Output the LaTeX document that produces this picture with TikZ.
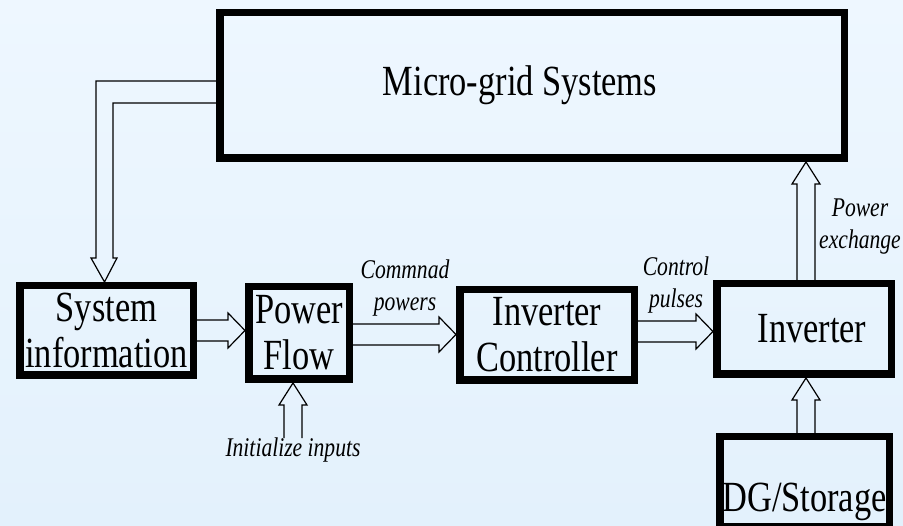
\documentclass[tikz,border=0pt]{standalone}
\usepackage{fontspec}
\setmainfont{Liberation Serif}[FakeStretch=0.8]
\usetikzlibrary{calc}
\definecolor{bgtop}{HTML}{EEF7FF}
\definecolor{bgbot}{HTML}{E3F1FC}
\tikzset{
  blk/.style={draw=black, line width=7.5pt, outer sep=3.75pt, inner sep=0pt,
              font=\fontsize{43}{46}\selectfont, align=center},
  lbl/.style={font=\itshape\fontsize{27}{32}\selectfont, align=center, inner sep=0pt},
  arr/.style={draw=black, line width=1.2pt, line join=miter},
}
\newcommand\harr[3]{\draw[arr] let \p1=(#1.east), \p2=(#2.west) in
  (\x1,#3pt+10.5pt) -- (\x2-17pt,#3pt+10.5pt) -- (\x2-17pt,#3pt+17.5pt) -- (\x2,#3pt)
  -- (\x2-17pt,#3pt-17.5pt) -- (\x2-17pt,#3pt-10.5pt) -- (\x1,#3pt-10.5pt);}
\newcommand\varr[3]{\draw[arr] let \p1=(#1.north), \p2=(#2.south) in
  (#3pt-9pt,\y1) -- (#3pt-9pt,\y2-22pt) -- (#3pt-14pt,\y2-22pt) -- (#3pt,\y2)
  -- (#3pt+14pt,\y2-22pt) -- (#3pt+9pt,\y2-22pt) -- (#3pt+9pt,\y1);}
\begin{document}
\begin{tikzpicture}[x=1pt,y=1pt]
\useasboundingbox (0,0) rectangle (903,526);
\shade[top color=bgtop, bottom color=bgbot] (0,0) rectangle (903,526);

\node[blk, minimum width=624.5pt, minimum height=145.5pt] (mg) at (532,440.5) {Micro-grid Systems\hspace*{24pt}};
\node[blk, minimum width=173.5pt, minimum height=89.5pt] (sys) at (106.5,195.5) {System\\information};
\node[blk, minimum width=100.5pt, minimum height=92.5pt] (pf) at (299,193) {Power\\Flow};
\node[blk, minimum width=174.5pt, minimum height=90.5pt] (ic) at (547,191) {Inverter\\Controller};
\node[blk, minimum width=174.5pt, minimum height=90.5pt] (inv) at (804,197) {\hspace*{16pt}Inverter};
\node[blk, minimum width=169.5pt, text height=75.25pt, text depth=15pt, anchor=base] (dg) at (804.5,14) {DG/Storage};

\node[lbl] (cmd) at (405,238.25) {Commnad\\powers};
\node[lbl] (ctl) at (676,241.25) {Control\\pulses};
\node[lbl] (pex) at (860,299.75) {Power\\exchange};
\node[lbl, anchor=base] (init) at (293,69) {Initialize inputs};

\harr{sys}{pf}{195.5}
\harr{pf}{ic}{191.5}
\harr{ic}{inv}{194.5}
\varr{inv}{mg}{806}
\varr{dg}{inv}{806}
\varr{init}{pf}{293}

\draw[arr] let \p1=(mg.west), \p2=(sys.north) in
  (\x1,445pt) -- (96pt,445pt) -- (96pt,268pt) -- (91pt,268pt) -- (104.5pt,\y2)
  -- (117pt,268pt) -- (113pt,268pt) -- (113pt,423pt) -- (\x1,423pt);
\end{tikzpicture}
\end{document}
